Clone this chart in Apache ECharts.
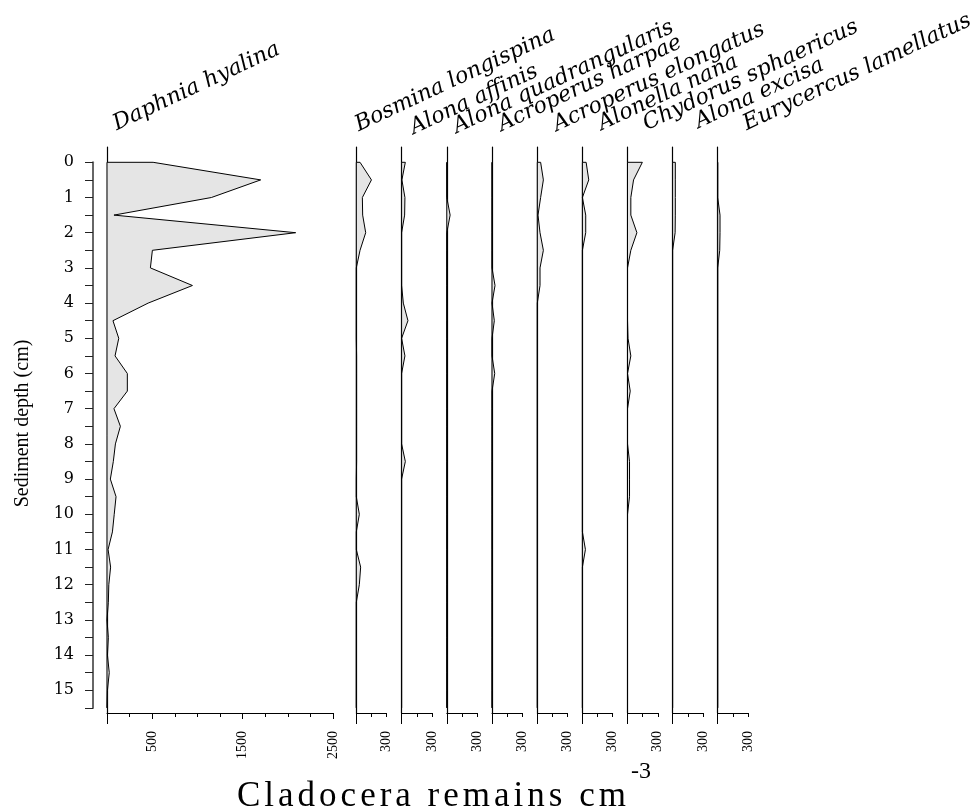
<!DOCTYPE html>
<html><head><meta charset="utf-8">
<script src="https://cdn.jsdelivr.net/npm/echarts@6/dist/echarts.min.js"></script>
<style>html,body{margin:0;padding:0;background:#fff}#c{width:973px;height:811px}</style>
</head><body><div id="c"></div>
<script>
// ---------- data ----------
const depths = [0,0.5,1,1.5,2,2.5,3,3.5,4,4.5,5,5.5,6,6.5,7,7.5,8,8.5,9,9.5,10,10.5,11,11.5,12,12.5,13,13.5,14,14.5,15,15.5];
const taxa = ['Daphnia hyalina','Bosmina longispina','Alona affinis','Alona quadrangularis','Acroperus harpae','Acroperus elongatus','Alonella nana','Chydorus sphaericus','Alona excisa','Eurycercus lamellatus'];
const daphniaHyalina      = [510,1700,1155,77,2087,502,480,945,455,66,130,89,225,225,77,148,93,70,37,100,80,60,12,40,20,15,0,15,5,25,5,0];
const bosminaLongispina   = [37,150,60,63,93,37,0,0,0,0,0,3,3,3,3,3,3,3,0,0,30,0,0,43,30,0,0,0,0,0,0,0];
const alonaAffinis        = [37,3,33,30,0,0,0,0,17,63,0,33,0,0,0,0,0,37,0,0,0,0,0,0,0,0,0,0,0,0,0,0];
const alonaQuadrangularis = [0,0,0,33,0,0,0,0,0,0,0,0,0,0,0,0,0,0,0,0,0,0,0,0,0,0,0,0,0,0,0,0];
const acroperusHarpae     = [0,0,0,0,0,0,0,30,0,23,0,0,27,0,0,0,0,0,0,0,0,0,0,0,0,0,0,0,0,0,0,0];
const acroperusElongatus  = [33,60,33,7,27,60,27,27,0,0,0,0,0,0,0,0,0,0,0,0,0,0,0,0,0,0,0,0,0,0,0,0];
const alonellaNana        = [37,63,0,33,33,0,0,0,0,0,0,0,0,0,0,0,0,0,0,0,0,0,30,0,0,0,0,0,0,0,0,0];
const chydorusSphaericus  = [147,60,33,33,93,33,0,0,0,0,5,33,0,27,0,0,0,20,20,20,0,0,0,0,0,0,0,0,0,0,0,0];
const alonaExcisa         = [27,27,27,27,25,0,0,0,0,0,0,0,0,0,0,0,0,0,0,0,0,0,0,0,0,0,0,0,0,0,0,0];
const eurycercusLamellatus= [0,0,0,23,23,20,0,0,0,0,0,0,0,0,0,0,0,0,0,0,0,0,0,0,0,0,0,0,0,0,0,0];
const seriesValues = [daphniaHyalina,bosminaLongispina,alonaAffinis,alonaQuadrangularis,acroperusHarpae,acroperusElongatus,alonellaNana,chydorusSphaericus,alonaExcisa,eurycercusLamellatus];
const axisMax = [2500,300,300,300,300,300,300,300,300,300];
const tickStep = [250,150,150,150,150,150,150,150,150,150];
const tickLabels = [[500,1500,2500],[300],[300],[300],[300],[300],[300],[300],[300],[300]];
const majorTicks = [[500,1500,2500],[],[],[],[],[],[],[],[],[]];
const depthMax = 15.5;
const xTitle = 'Cladocera remains cm';
const xTitleSup = '-3';
const yTitle = 'Sediment depth (cm)';

// ---------- layout ----------
const DEPTH_TOP = 162.3, DEPTH_BOTTOM = 707.9, PLOT_TOP = 147, PLOT_BOTTOM = 713;
const pxPerCm = (DEPTH_BOTTOM - DEPTH_TOP) / depthMax;
const yMinPanel = -(DEPTH_TOP - PLOT_TOP) / pxPerCm;
const yMaxPanel = depthMax + (PLOT_BOTTOM - DEPTH_BOTTOM) / pxPerCm;
const panelLeft  = [107,356.3,401.6,446.8,492,537.3,582.4,627.5,672.6,717.7];
const panelWidth = [226,30.3,30.3,30.3,30.3,30.3,30.3,30.3,30.3,30.3];
const labelStart = [[117,131],[359,132],[414,135],[457,134],[502,132],[557,132],[602,131],[647,131],[699,129],[747,131]];
const LABEL_ROT = 25 * Math.PI / 180;
const LABEL_FS = 22;
const TITLE_FS = 35, TITLE_X = 237, TITLE_BASE = 807, TITLE_SPACING = 4;

// letter-spaced x-axis title (canvas letterSpacing, applied only to that string)
const origFillText = CanvasRenderingContext2D.prototype.fillText;
CanvasRenderingContext2D.prototype.fillText = function (t, x, y) {
  const args = Array.prototype.slice.call(arguments);
  if (t === xTitle && 'letterSpacing' in this) {
    const f = this.font;
    this.letterSpacing = TITLE_SPACING + 'px';
    this.font = '10px sans-serif'; this.font = f;
    origFillText.apply(this, args);
    this.letterSpacing = '0px';
    this.font = '10px sans-serif'; this.font = f;
    return;
  }
  if ('letterSpacing' in this && this.letterSpacing !== '0px') {
    const f = this.font;
    this.letterSpacing = '0px';
    this.font = '10px sans-serif'; this.font = f;
  }
  return origFillText.apply(this, args);
};

const grid = [{left: 93, top: DEPTH_TOP, width: 1, height: DEPTH_BOTTOM - DEPTH_TOP}];
const xAxis = [{gridIndex: 0, type: 'value', show: false, min: 0, max: 1}];
const yAxis = [{
  gridIndex: 0, type: 'value', inverse: true, min: 0, max: depthMax, interval: 0.5,
  axisLine: {show: true, onZero: false, lineStyle: {color: '#666', width: 2}},
  axisTick: {show: true, length: 8, lineStyle: {color: '#222', width: 1}},
  axisLabel: {formatter: v => (Math.abs(v - Math.round(v)) < 1e-6 ? String(Math.round(v)) : ''),
              margin: 19, fontFamily: 'DejaVu Serif', fontSize: 16, color: '#000'},
  splitLine: {show: false}
}];
const series = [];
const graphic = [];

seriesValues.forEach((vals, i) => {
  const g = i + 1;
  grid.push({left: panelLeft[i], top: PLOT_TOP, width: panelWidth[i], height: PLOT_BOTTOM - PLOT_TOP});
  const mainX = xAxis.length;
  xAxis.push({
    gridIndex: g, type: 'value', min: 0, max: axisMax[i], interval: tickStep[i], position: 'bottom',
    axisLine: {show: true, onZero: false, lineStyle: {color: '#000', width: 1}},
    axisTick: {show: true, length: 4, lineStyle: {color: '#000', width: 1}},
    axisLabel: {customValues: tickLabels[i], formatter: v => String(v), rotate: 90, margin: 18,
                fontFamily: 'Liberation Serif', fontSize: 14, color: '#000'},
    splitLine: {show: false}
  });
  if (majorTicks[i].length) {
    xAxis.push({
      gridIndex: g, type: 'value', min: 0, max: axisMax[i], position: 'bottom',
      axisLine: {show: false, onZero: false},
      axisTick: {show: true, customValues: majorTicks[i], length: 6, lineStyle: {color: '#000', width: 1}},
      axisLabel: {show: false}, splitLine: {show: false}
    });
  }
  xAxis.push({
    gridIndex: g, type: 'value', min: 0, max: axisMax[i], position: 'bottom',
    axisLine: {show: false, onZero: false},
    axisTick: {show: true, customValues: [0], length: 11, lineStyle: {color: '#000', width: 1}},
    axisLabel: {show: false}, splitLine: {show: false}
  });
  const yIdx = yAxis.length;
  yAxis.push({
    gridIndex: g, type: 'value', inverse: true, min: yMinPanel, max: yMaxPanel,
    axisLine: {show: true, onZero: false, lineStyle: {color: '#000', width: 1.2}},
    axisTick: {show: false}, axisLabel: {show: false}, splitLine: {show: false}
  });
  series.push({
    type: 'custom', name: taxa[i], xAxisIndex: mainX, yAxisIndex: yIdx, clip: false, silent: true,
    data: depths.map((d, k) => [vals[k], d]),
    renderItem: function (params, api) {
      if (params.dataIndex !== 0) return null;
      const pts = [api.coord([0, depths[0]])];
      for (let k = 0; k < depths.length; k++) pts.push(api.coord([vals[k], depths[k]]));
      pts.push(api.coord([0, depths[depths.length - 1]]));
      return {type: 'polygon', shape: {points: pts},
              style: {fill: '#e5e5e5', stroke: '#000', lineWidth: 1}};
    }
  });
  // rotated taxon name, anchored at baseline start
  const [bx, by] = labelStart[i];
  const off = 0.3 * LABEL_FS;
  graphic.push({
    type: 'text', x: bx - off * Math.sin(LABEL_ROT), y: by - off * Math.cos(LABEL_ROT), rotation: LABEL_ROT,
    style: {text: taxa[i], fontFamily: 'DejaVu Serif', fontStyle: 'italic', fontSize: LABEL_FS, fill: '#000',
            textAlign: 'left', textVerticalAlign: 'middle'}
  });
});

// axis titles
graphic.push({
  type: 'text', x: 23, y: 423.5, rotation: Math.PI / 2,
  style: {text: yTitle, fontFamily: 'Liberation Serif', fontSize: 20, fill: '#000', textAlign: 'center', textVerticalAlign: 'middle'}
});
const mctx = document.createElement('canvas').getContext('2d');
if ('letterSpacing' in mctx) mctx.letterSpacing = TITLE_SPACING + 'px';
mctx.font = TITLE_FS + 'px "Liberation Serif"';
const titleW = mctx.measureText(xTitle).width;
graphic.push({
  type: 'text', x: TITLE_X, y: TITLE_BASE - 0.3 * TITLE_FS,
  style: {text: xTitle, fontFamily: 'Liberation Serif', fontSize: TITLE_FS, fill: '#000', textAlign: 'left', textVerticalAlign: 'middle'}
});
graphic.push({
  type: 'text', x: TITLE_X + titleW + 1, y: 772,
  style: {text: xTitleSup, fontFamily: 'Liberation Serif', fontSize: 24, fill: '#000', textAlign: 'left', textVerticalAlign: 'middle'}
});

const chart = echarts.init(document.getElementById('c'), null, {renderer: 'canvas'});
chart.setOption({animation: false, backgroundColor: '#fff', grid, xAxis, yAxis, series, graphic});
</script>
</body></html>
